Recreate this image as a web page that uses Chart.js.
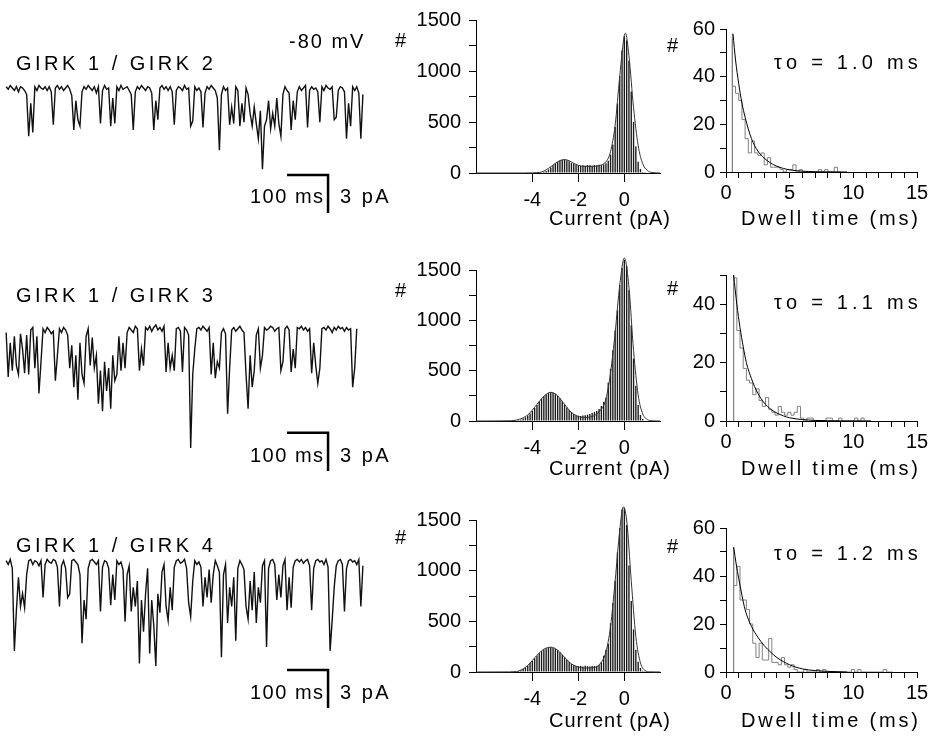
<!DOCTYPE html>
<html>
<head>
<meta charset="utf-8">
<script src="https://cdn.jsdelivr.net/npm/chart.js@4.4.1/dist/chart.umd.min.js"></script>
<style>
body { margin: 0; background: #fff; }
#fig { position: relative; width: 935px; height: 740px; background: #fff; font-family: "Liberation Sans", Arial, sans-serif; color: #000; overflow: hidden; }
#fig canvas { position: absolute; }
.lbl { position: absolute; font-size: 20px; line-height: 20px; white-space: nowrap; }
</style>
</head>
<body>
<div id="fig"></div>
<script>
// Row titles and fit labels
const rowNames = ['GIRK 1 / GIRK 2', 'GIRK 1 / GIRK 3', 'GIRK 1 / GIRK 4'];
const tauLabels = ['\u03c4o = 1.0 ms', '\u03c4o = 1.1 ms', '\u03c4o = 1.2 ms'];

// Single channel traces (pA), one sample every 5 ms
const traceStepMs = 5;
const trace1 = [
  0.1, -0.1, 0.2, 0, -0.2, 0.1, -0.3, 0.1, 0, -0.2,
  -0.5, -3.8, -1.2, -3.5, 0.1, -0.2, 0.2, 0, -0.1, 0.1,
  -0.2, 0.1, -0.3, -2.9, 0, 0.2, -0.1, 0.1, -0.2, 0,
  0.2, -0.1, -0.6, -3.3, -1.0, -2.5, -3.0, -0.3, 0.1, -0.1,
  0.2, 0, -0.2, 0.1, -0.4, 0.1, -2.8, -0.2, 0.2, -0.1,
  0, -3.0, -0.8, -2.8, 0.1, -0.2, 0.2, -0.1, 0, 0.1,
  -0.2, -0.5, -3.3, -0.3, 0.1, -0.1, 0.2, 0, -0.2, 0.1,
  0, -0.4, -3.3, -1.0, -2.5, 0, 0.2, -0.1, 0.1, -0.2,
  0.1, -0.3, -2.9, -0.2, 0.1, 0, -0.2, 0.2, -0.1, 0,
  -3.0, -2.6, 0.1, -0.2, 0, -0.3, -3.1, -0.4, 0.1, -0.1,
  0.2, 0, -0.2, -0.8, -4.9, -0.5, 0.1, -0.2, 0, -2.9,
  -1.5, -2.8, 0.1, -0.2, -3.0, -1.2, -2.7, 0, -0.5, -2.0,
  -3.0, -1.5, -2.8, -4.0, -1.8, -6.4, -3.0, -2.5, -1.0, -3.2,
  -2.0, -3.0, -0.8, -2.8, -3.8, -0.5, 0.1, -0.2, -0.4, -3.3,
  -1.0, -2.5, -0.3, 0.1, -0.2, 0, 0.2, -3.1, -0.2, 0.1,
  -0.1, 0, -0.3, -2.7, 0.1, -0.2, 0.2, 0, -0.1, 0.1,
  -2.5, -2.3, -0.2, 0.1, 0, -0.3, -4.0, -1.2, -3.0, 0.1,
  -0.2, 0.1, -0.4, -4.0, -0.5
];
const trace2 = [
  -0.2, -3.7, -1.0, -3.2, -0.5, -2.8, -3.5, -0.3, -1.5, -3.4,
  -0.4, -3.5, 0, 0.2, -3.0, -0.5, -5.0, -2.5, 0.1, -0.2,
  0.2, 0, -0.3, -0.1, -4.0, -2.0, 0.1, -0.2, 0.2, 0,
  -0.4, -3.0, -1.2, -4.5, -2.0, -5.5, -1.0, -3.5, -4.2, -0.5,
  0.1, -2.8, -0.6, -3.0, -2.0, -5.8, -3.2, -6.4, -2.5, -4.8,
  -3.0, -6.2, -2.0, -4.0, -3.5, -0.5, -3.2, -1.0, -3.0, -0.2,
  0.2, 0, -0.2, 0.3, 0.1, -3.2, -1.5, -2.8, 0.2, 0,
  0.3, -0.1, 0.2, 0.4, 0, 0.2, -0.1, 0.3, -3.3, -1.0,
  -3.0, -2.0, -3.2, 0.1, 0.2, -0.1, -3.3, 0.2, 0, -0.4,
  -9.3, -3.5, -1.5, 0.1, 0.2, 0, 0.3, 0.1, -0.1, 0.2,
  -3.5, -1.0, -3.8, -2.5, -3.0, -0.2, 0.1, -0.3, -6.6, -3.0,
  0, 0.2, -0.1, 0.1, 0.3, 0, -0.2, -3.5, -6.2, -2.0,
  -4.5, -3.2, -0.4, 0.1, -3.0, -2.0, 0.2, 0, 0.1, 0.3,
  0.2, -0.1, 0.1, 0.2, -3.2, -2.5, 0.1, 0.3, 0, -3.3,
  -1.5, -3.0, 0.2, 0.1, 0.3, 0, 0.2, -0.1, 0.1, -3.4,
  -1.0, -2.8, -4.2, -3.0, 0.1, 0.2, 0, 0.3, 0.1, -0.2,
  0.2, 0, 0.3, 0.1, 0.2, -0.1, 0.2, 0, 0.1, -4.5,
  -3.0, 0.1
];
const trace3 = [
  0.1, -0.2, 0.2, -0.5, -7.0, -3.8, -1.2, -3.5, -2.5, -3.6,
  -1.0, 0.1, 0.2, -0.2, 0.1, 0, -0.3, 0.1, -2.8, -0.2,
  0.2, 0, -0.1, 0.2, 0.1, -0.4, -3.5, -0.3, 0.1, -0.5,
  -2.8, -2.5, 0.1, 0.2, 0, -0.2, -1.0, -6.4, -3.0, -4.5,
  -0.5, 0.1, 0.2, 0, -0.2, 0.1, -3.9, -0.4, 0.1, 0,
  -0.5, -3.4, -1.0, -3.0, 0.1, -0.2, 0, -0.6, -4.7, -1.0,
  -0.3, -3.9, -2.0, -3.5, -1.5, -8.0, -3.0, -5.5, -2.5, -0.5,
  -7.2, -3.0, -5.0, -8.2, -2.5, -4.0, -0.8, -0.2, -3.5, -4.6,
  -2.0, -3.8, -0.4, 0.1, 0.2, -0.1, 0, 0.2, -0.5, -3.2,
  -4.3, -1.5, 0.1, -0.2, 0, -0.4, -3.5, -1.2, -2.8, -0.6,
  -3.2, -1.0, 0.1, -0.3, -0.8, -7.5, -1.0, -0.2, -4.8, -2.0,
  -3.5, -1.2, -6.2, -0.5, 0.1, -0.2, -0.6, -3.5, -4.5, -1.5,
  -3.8, -0.8, -4.8, -2.0, -3.2, -0.3, 0.1, -6.7, -0.5, 0.1,
  0.2, -0.2, -3.0, -1.0, -2.8, -0.3, 0.2, -3.8, -1.2, -3.6,
  -0.4, 0.1, 0.2, 0, 0.2, -0.1, 0.1, 0.2, -0.3, -3.8,
  -0.5, 0.1, 0.2, 0, 0.1, -0.2, 0.2, -0.4, -7.0, -4.6,
  -2.0, -0.3, 0.1, 0.2, -0.2, -3.9, -0.5, 0.1, 0.2, 0,
  0.1, -0.2, 0.2, -3.5, -0.3
];

// Scale bars: 100 ms and 3 pA
const scaleBarMs = [685, 785];
const scaleBarTop = [-6.85, -8.1, -8.5];
const scaleBarPa = 3;

// Amplitude histograms (bin centres in pA, counts)
const ampBins = [-5.0, -4.9, -4.8, -4.7, -4.6, -4.5, -4.4, -4.3, -4.2, -4.1,
  -4.0, -3.9, -3.8, -3.7, -3.6, -3.5, -3.4, -3.3, -3.2, -3.1,
  -3.0, -2.9, -2.8, -2.7, -2.6, -2.5, -2.4, -2.3, -2.2, -2.1,
  -2.0, -1.9, -1.8, -1.7, -1.6, -1.5, -1.4, -1.3, -1.2, -1.1,
  -1.0, -0.9, -0.8, -0.7, -0.6, -0.5, -0.4, -0.3, -0.2, -0.1,
  0.0, 0.1, 0.2, 0.3, 0.4, 0.5, 0.6, 0.7, 0.8, 0.9, 1.0];
const ampCounts1 = [0, 0, 0, 0, 0, 0, 0, 0, 0, 0,
  0, 1, 2, 4, 7, 12, 20, 35, 55, 75,
  95, 110, 120, 128, 132, 125, 115, 100, 90, 80,
  75, 70, 75, 72, 78, 75, 72, 78, 75, 80,
  78, 85, 95, 120, 180, 280, 450, 680, 950, 1200,
  1340, 1300, 1100, 800, 500, 260, 110, 40, 10, 2, 0];
const ampCounts2 = [2, 3, 4, 6, 10, 16, 25, 38, 55, 75,
  100, 130, 160, 190, 220, 245, 265, 278, 285, 282,
  270, 250, 225, 195, 165, 135, 110, 88, 70, 58,
  52, 50, 55, 58, 62, 70, 80, 90, 100, 120,
  150, 190, 230, 380, 520, 700, 900, 1100, 1350, 1520,
  1600, 1540, 1300, 950, 620, 350, 160, 60, 20, 5, 0];
const ampCounts3 = [0, 1, 2, 5, 10, 18, 30, 45, 65, 88,
  110, 135, 160, 185, 205, 222, 235, 243, 245, 240,
  230, 215, 195, 170, 145, 120, 98, 80, 68, 60,
  58, 60, 55, 62, 58, 55, 58, 60, 62, 70,
  95, 160, 220, 280, 480, 680, 900, 1180, 1420, 1600,
  1620, 1450, 1050, 700, 420, 220, 100, 40, 12, 3, 0];

// Gaussian fits
const ampFitX1 = [-6.45, -4.4, -4.0, -3.6, -3.3, -3.0, -2.8, -2.6, -2.4, -2.2, -2.0, -1.7, -1.4, -1.1, -0.8, -0.6, -0.4, -0.2, 0.0, 0.05, 0.2, 0.4, 0.6, 0.8, 1.0, 1.2, 1.55];
const ampFitY1 = [0, 0, 1, 10, 45, 95, 122, 132, 120, 95, 75, 65, 65, 72, 110, 210, 470, 950, 1350, 1370, 1150, 640, 270, 90, 25, 5, 0];
const ampFitX2 = [-6.45, -5.0, -4.6, -4.2, -3.8, -3.5, -3.2, -2.9, -2.6, -2.3, -2.0, -1.7, -1.4, -1.1, -0.8, -0.6, -0.4, -0.2, 0.0, 0.2, 0.4, 0.6, 0.8, 1.0, 1.2, 1.55];
const ampFitY2 = [0, 2, 15, 60, 165, 245, 285, 250, 165, 85, 45, 35, 45, 90, 220, 480, 880, 1350, 1620, 1330, 700, 260, 70, 15, 2, 0];
const ampFitX3 = [-6.45, -5.0, -4.6, -4.2, -3.8, -3.5, -3.2, -2.9, -2.6, -2.3, -2.0, -1.7, -1.4, -1.1, -0.8, -0.6, -0.4, -0.2, -0.05, 0.1, 0.3, 0.5, 0.7, 0.9, 1.1, 1.55];
const ampFitY3 = [0, 1, 10, 65, 165, 225, 245, 215, 145, 80, 50, 40, 42, 70, 200, 450, 900, 1400, 1630, 1500, 900, 350, 90, 15, 2, 0];

const ampXTicks = [-4, -2, 0];
const ampYTicks = [0, 250, 500, 750, 1000, 1250, 1500];
const ampYLabels = [0, 500, 1000, 1500];

// Open dwell time histograms (0.25 ms bins)
const dwellBinWidth = 0.25;
const dwellStart = [0.5, 0.6, 0.6];
const dwellCounts1 = [56, 36, 33, 30, 22, 14, 8, 13, 8, 7, 8, 3, 6, 2, 2, 2, 1, 0, 1, 1,
  3, 0, 1, 0, 0, 0, 0, 0, 1, 0, 1, 0, 0, 2];
const dwellCounts2 = [45, 49, 31, 25, 18, 14, 13, 9, 11, 7, 5, 8, 4, 3, 2, 5, 3, 2, 3, 2,
  3, 5, 1, 0, 1, 1, 0, 0, 0, 0, 1, 1, 0, 0, 1, 0, 0, 0, 0, 1, 0, 1, 0];
const dwellCounts3 = [52, 36, 44, 30, 30, 26, 20, 12, 6, 12, 5, 5, 14, 4, 4, 3, 6, 3, 2, 3,
  1, 0, 0, 1, 0, 0, 0, 1, 0, 1, 0, 0, 0, 0, 0, 0, 0, 0, 1, 0,
  1, 0, 0, 0, 0, 0, 0, 0, 1, 0];
const dwellMarkTop = [58, 50, 52];

// Exponential fits
const dwellFitT1 = [0.55, 0.75, 1.0, 1.25, 1.5, 2.0, 2.5, 3.0, 3.5, 4.0, 5.0, 6.0, 7.0, 8.0, 9.5];
const dwellFitY1 = [58, 47, 37, 29, 23, 14, 8.8, 5.8, 3.8, 2.4, 0.9, 0.35, 0.12, 0.05, 0];
const dwellFitT2 = [0.6, 0.85, 1.1, 1.35, 1.6, 2.0, 2.5, 3.0, 3.5, 4.0, 5.0, 6.0, 7.0, 8.0, 9.0, 11.4];
const dwellFitY2 = [50, 40, 32, 25.5, 20, 14.5, 9.5, 6.2, 4.1, 2.7, 1.1, 0.5, 0.2, 0.1, 0.05, 0];
const dwellFitT3 = [0.6, 0.8, 1.0, 1.25, 1.5, 2.0, 2.5, 3.0, 3.5, 4.0, 5.0, 6.0, 7.0, 8.0, 9.5];
const dwellFitY3 = [52, 45, 39, 32, 26, 19, 14.5, 11, 8.3, 6, 3, 1.3, 0.6, 0.25, 0];

const dwellXTicks = [0, 1, 2, 3, 4, 5, 6, 7, 8, 9, 10, 11, 12, 13, 14, 15];
const dwellXLabels = [0, 5, 10, 15];
const dwellYTicks = [[0, 10, 20, 30, 40, 50, 60], [0, 10, 20, 30, 40, 50], [0, 10, 20, 30, 40, 50, 60]];
const dwellYLabels = [0, 20, 40, 60];

Chart.defaults.font.family = "'Liberation Sans', Arial, sans-serif";
Chart.defaults.font.size = 20;
Chart.defaults.color = '#000';

const fig = document.getElementById('fig');

function addCanvas(left, top, w, h) {
    const c = document.createElement('canvas');
    c.width = w;
    c.height = h;
    c.style.left = left + 'px';
    c.style.top = top + 'px';
    c.style.width = w + 'px';
    c.style.height = h + 'px';
    fig.appendChild(c);
    return c.getContext('2d');
}

function addLabel(text, style) {
    const d = document.createElement('div');
    d.className = 'lbl';
    d.textContent = text;
    Object.assign(d.style, style);
    fig.appendChild(d);
}

function baseOptions() {
    return {
        responsive: false,
        animation: false,
        devicePixelRatio: 1,
        events: [],
        plugins: { legend: { display: false }, tooltip: { enabled: false } }
    };
}

// linear axis with fixed tick list, labels only on some ticks
function axisScale(min, max, tickVals, labelVals, tickLen, pad, size, isX) {
    return {
        type: 'linear',
        min: min,
        max: max,
        offset: false,
        grid: { display: true, drawOnChartArea: false, drawTicks: true, tickLength: tickLen, color: '#000', lineWidth: 1, offset: false },
        border: { display: true, color: '#000', width: 1 },
        ticks: {
            padding: pad,
            autoSkip: false,
            maxRotation: 0,
            color: '#000',
            callback: v => labelVals.includes(v) ? String(v) : ''
        },
        afterBuildTicks: s => { s.ticks = tickVals.map(v => ({ value: v })); },
        afterFit: s => { if (isX) s.height = size; else s.width = size; }
    };
}

const rowTops = [0, 250, 500];

// Traces
const traces = [trace1, trace2, trace3];
const traceYRange = [[-11.97, 6.93], [-12.6, 6.3], [-14.02, 4.88]];
traces.forEach((tr, r) => {
    const ctx = addCanvas(0, rowTops[r], 440, 240);
    const bar = [
        { x: scaleBarMs[0], y: scaleBarTop[r] },
        { x: scaleBarMs[1], y: scaleBarTop[r] },
        { x: scaleBarMs[1], y: scaleBarTop[r] - scaleBarPa }
    ];
    const opts = baseOptions();
    opts.layout = { padding: 0 };
    opts.scales = {
        x: { type: 'linear', display: false, min: -15, max: 1058 },
        y: { type: 'linear', display: false, min: traceYRange[r][0], max: traceYRange[r][1] }
    };
    new Chart(ctx, {
        type: 'line',
        data: {
            datasets: [
                { data: tr.map((v, i) => ({ x: i * traceStepMs, y: v })), borderColor: '#111', borderWidth: 1.4, pointRadius: 0, tension: 0, borderJoinStyle: 'miter' },
                { data: bar, borderColor: '#000', borderWidth: 2.5, pointRadius: 0, tension: 0, borderCapStyle: 'butt' }
            ]
        },
        options: opts
    });
});

// Amplitude histograms
const ampCounts = [ampCounts1, ampCounts2, ampCounts3];
const ampFits = [[ampFitX1, ampFitY1], [ampFitX2, ampFitY2], [ampFitX3, ampFitY3]];
const ampTopPad = [16, 14, 16];
const ampXH = [67, 69, 68];
ampCounts.forEach((counts, r) => {
    const ctx = addCanvas(400, rowTops[r], 275, 240);
    const opts = baseOptions();
    opts.layout = { padding: { left: 0, top: ampTopPad[r], right: 15, bottom: 0 } };
    opts.scales = {
        x: axisScale(-6.45, 1.55, ampXTicks, ampXTicks, 9, 6, ampXH[r], true),
        y: axisScale(0, 1500, ampYTicks, ampYLabels, 7, 8, 76, false)
    };
    new Chart(ctx, {
        type: 'bar',
        data: {
            datasets: [
                {
                    type: 'line',
                    data: ampFits[r][0].map((x, i) => ({ x: x, y: ampFits[r][1][i] })),
                    borderColor: '#333', borderWidth: 1, pointRadius: 0,
                    cubicInterpolationMode: 'monotone', clip: false, order: 0
                },
                {
                    data: ampBins.map((x, i) => ({ x: x, y: counts[i] })),
                    backgroundColor: '#1a1a1a', barPercentage: 0.6, categoryPercentage: 1,
                    borderWidth: 0, clip: false, order: 1
                }
            ]
        },
        options: opts
    });
});

// Dwell time histograms
const dwellCounts = [dwellCounts1, dwellCounts2, dwellCounts3];
const dwellFits = [[dwellFitT1, dwellFitY1], [dwellFitT2, dwellFitY2], [dwellFitT3, dwellFitY3]];
const dwellMax = [60, 50, 60];
const dwellTopPad = [29, 25, 28];
const dwellXH = [68, 69, 68];
dwellCounts.forEach((counts, r) => {
    const ctx = addCanvas(660, rowTops[r], 275, 240);
    const t0 = dwellStart[r];
    const hist = [{ x: t0, y: 0 }];
    counts.forEach((c, i) => hist.push({ x: t0 + i * dwellBinWidth, y: c }));
    hist.push({ x: t0 + counts.length * dwellBinWidth, y: 0 });
    const mark = [{ x: t0, y: 0 }, { x: t0, y: dwellMarkTop[r] }];
    const opts = baseOptions();
    opts.layout = { padding: { left: 0, top: dwellTopPad[r], right: 18, bottom: 0 } };
    opts.scales = {
        x: axisScale(0, 15, dwellXTicks, dwellXLabels, 6, 3, dwellXH[r], true),
        y: axisScale(0, dwellMax[r], dwellYTicks[r], dwellYLabels, 6, 5, 66, false)
    };
    new Chart(ctx, {
        type: 'line',
        data: {
            datasets: [
                { data: dwellFits[r][0].map((t, i) => ({ x: t, y: dwellFits[r][1][i] })), borderColor: '#000', borderWidth: 1, pointRadius: 0, cubicInterpolationMode: 'monotone', clip: false, order: 0 },
                { data: mark, borderColor: '#808080', borderWidth: 1, pointRadius: 0, order: 1 },
                { data: hist, stepped: 'after', borderColor: '#808080', borderWidth: 1, pointRadius: 0, order: 2 }
            ]
        },
        options: opts
    });
});

// Text labels
addLabel('-80 mV', { left: '289px', top: '31px', letterSpacing: '2px' });
rowNames.forEach((name, r) => {
    const nameTop = [53, 285, 535][r];
    const barTop = [186, 445, 682][r];
    const titleTop = [208, 458, 710][r];
    addLabel(name, { left: '16px', top: nameTop + 'px', letterSpacing: '3.5px' });
    addLabel('100 ms', { left: '250px', top: barTop + 'px', letterSpacing: '1.5px' });
    addLabel('3 pA', { left: '340px', top: barTop + 'px', letterSpacing: '2.5px' });
    addLabel('#', { left: '395px', top: [30, 280, 527][r] + 'px' });
    addLabel('#', { left: '667px', top: [35, 278, 536][r] + 'px' });
    addLabel(tauLabels[r], { right: '13px', top: [52, 292, 543][r] + 'px', letterSpacing: '4.2px' });
    addLabel('Current (pA)', { left: '549px', top: titleTop + 'px', letterSpacing: '1px' });
    addLabel('Dwell time (ms)', { left: '741px', top: titleTop + 'px', letterSpacing: '2.8px' });
});
</script>
</body>
</html>
